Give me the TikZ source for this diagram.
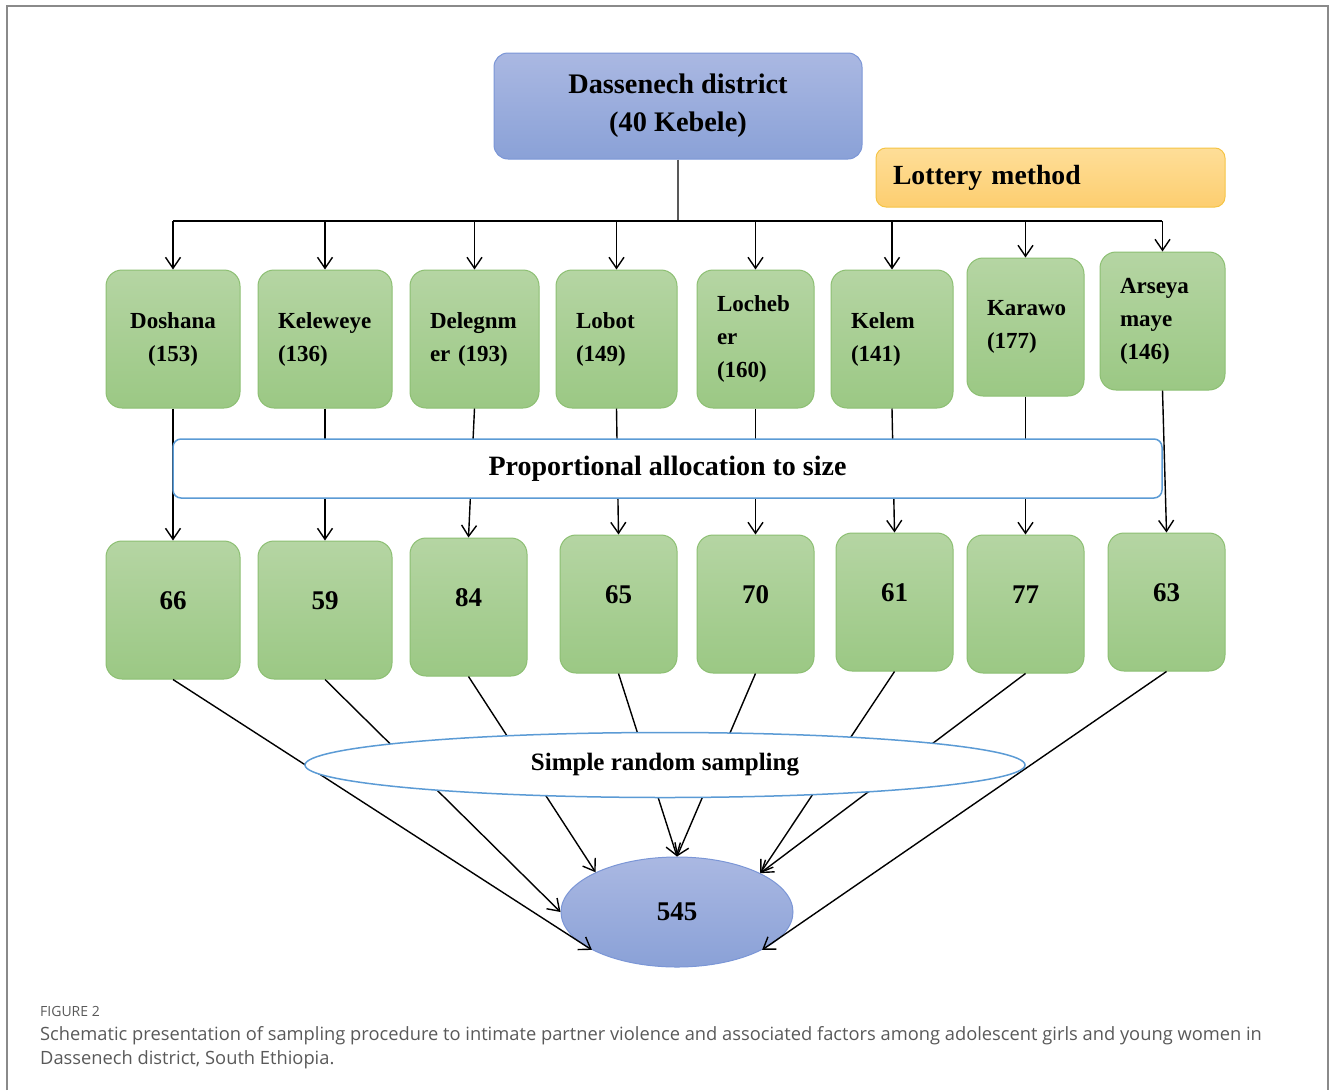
\documentclass[tikz,border=0pt]{standalone}
\usepackage{fontspec}
\setmainfont{Liberation Serif}
\newfontfamily\capfont{Open Sans}
\usepackage{xcolor}
\definecolor{dasbluetop}{HTML}{AAB8E2}
\definecolor{dasbluebot}{HTML}{8AA1D7}
\definecolor{dasblueedge}{HTML}{7B96D6}
\definecolor{dasgreentop}{HTML}{B5D5A3}
\definecolor{dasgreenbot}{HTML}{9BC884}
\definecolor{dasgreenedge}{HTML}{8CBF72}
\definecolor{dasorangetop}{HTML}{FEDE98}
\definecolor{dasorangebot}{HTML}{FDCE70}
\definecolor{dasorangeedge}{HTML}{F5C445}
\definecolor{dasline}{HTML}{5B9BD5}
\definecolor{dasframe}{HTML}{8A8A8A}
\definecolor{dascaption}{HTML}{595959}
\usetikzlibrary{shapes.geometric, arrows.meta, positioning}

\begin{document}
\begin{tikzpicture}[x=1pt, y=-1pt,
  district/.style={rectangle, rounded corners=14pt, draw=dasblueedge, line width=1pt,
    top color=dasbluetop, bottom color=dasbluebot, align=center, inner sep=0pt,
    minimum width=368pt, minimum height=106pt, font=\fontsize{28.3}{38}\selectfont\bfseries},
  lottery/.style={rectangle, rounded corners=10pt, draw=dasorangeedge, line width=1pt,
    top color=dasorangetop, bottom color=dasorangebot, inner xsep=17pt, text width=315pt,
    align=left, minimum height=59pt, font=\fontsize{27.7}{32}\selectfont\bfseries},
  kebele/.style={rectangle, rounded corners=16pt, draw=dasgreenedge, line width=1pt,
    top color=dasgreentop, bottom color=dasgreenbot, inner xsep=20pt, inner ysep=0pt,
    align=left, minimum height=138pt, font=\fontsize{23}{33}\selectfont\bfseries},
  sample/.style={kebele, inner sep=0pt, align=center, text depth=18pt,
    font=\fontsize{27}{32}\selectfont\bfseries},
  allocbox/.style={rectangle, rounded corners=8pt, draw=dasline, line width=1.5pt, fill=white,
    minimum width=989pt, minimum height=59pt, font=\fontsize{28}{30}\selectfont\bfseries},
  srsbox/.style={ellipse, draw=dasline, line width=1.5pt, fill=white, inner sep=0pt,
    minimum width=720pt, minimum height=65pt, font=\fontsize{25}{28}\selectfont\bfseries},
  totalbox/.style={ellipse, draw=dasblueedge, line width=1pt, top color=dasbluetop,
    bottom color=dasbluebot, inner sep=0pt, minimum width=232pt, minimum height=110pt,
    font=\fontsize{27}{32}\selectfont\bfseries},
  link/.style={line width=1.4pt, -{Straight Barb[length=11pt, width=15pt]}},
  trunk/.style={line width=1.4pt}
]
\useasboundingbox (0,0) rectangle (1330,1090);
% Frame
\draw[dasframe, line width=2pt] (7,1090) -- (7,6) -- (1328,6) -- (1328,1090);

% Top
\node[district] (dist) at (678,106) {Dassenech district\\(40 Kebele)};
\node[lottery] (lot) at (1050.5,177.5) {Lottery method};
\coordinate (bus) at (678,221);
\coordinate (busL) at (173,221);
\coordinate (busR) at (1162,221);
\draw[trunk, black!65] (dist.south) -- (bus);
\draw[trunk] (busL) -- (busR);

% Kebeles
\node[kebele, text width=94pt, align=center] (k1) at (173,339) {Doshana\\(153)};
\node[kebele, text width=94pt] (k2) at (325,339)    {Keleweye\\(136)};
\node[kebele, text width=89pt] (k3) at (474.5,339)  {Delegnm\\er (193)};
\node[kebele, text width=81pt] (k4) at (616.5,339)  {Lobot\\(149)};
\node[kebele, text width=77pt] (k5) at (755.5,339)  {Locheb\\er\\(160)};
\node[kebele, text width=82pt] (k6) at (892,339)    {Kelem\\(141)};
\node[kebele, text width=77pt] (k7) at (1025.5,327) {Karawo\\(177)};
\node[kebele, text width=85pt] (k8) at (1162.5,321) {Arseya\\maye\\(146)};

% Samples
\node[sample, minimum width=134pt] (s1) at (173,610)    {66};
\node[sample, minimum width=134pt] (s2) at (325,610)    {59};
\node[sample, minimum width=117pt] (s3) at (468.5,607)  {84};
\node[sample, minimum width=117pt] (s4) at (618.5,604)  {65};
\node[sample, minimum width=117pt] (s5) at (755.5,604)  {70};
\node[sample, minimum width=117pt] (s6) at (894.5,602)  {61};
\node[sample, minimum width=117pt] (s7) at (1025.5,604) {77};
\node[sample, minimum width=117pt] (s8) at (1166.5,602) {63};

\node[totalbox] (total) at (677,912) {545};

% Arrows
\foreach \i in {1,...,8} {
  \draw[link] (k\i.north |- bus) -- (k\i.north);
  \draw[link] (k\i.south) -- (s\i.north);
}
\draw[link] (s1.south) -- (total.204);
\draw[link] (s2.south) -- (total.180);
\draw[link] (s3.south) -- (total.154);
\draw[link] (s4.south) -- (total.90);
\draw[link] (s5.south) -- (total.90);
\draw[link] (s6.south) -- (total.25);
\draw[link] (s7.south) -- (total.25);
\draw[link] (s8.south) -- (total.336);

% Method boxes over the lines
\node[allocbox] (alloc) at (667.5,468.5) {Proportional allocation to size};
\node[srsbox] (srs) at (665,765) {Simple random sampling};

% Caption
\node[anchor=north west, inner sep=0pt, text=dascaption, font=\capfont\fontsize{14}{16}\selectfont]
  (fig) at (40,1006) {FIGURE 2};
\node[anchor=north west, inner sep=0pt, text=dascaption, align=left,
  font=\capfont\fontsize{18.3}{24}\selectfont] (cap) at (40,1026)
  {Schematic presentation of sampling procedure to intimate partner violence and associated factors among adolescent girls and young women in\\Dassenech district, South Ethiopia.};
\end{tikzpicture}
\end{document}
